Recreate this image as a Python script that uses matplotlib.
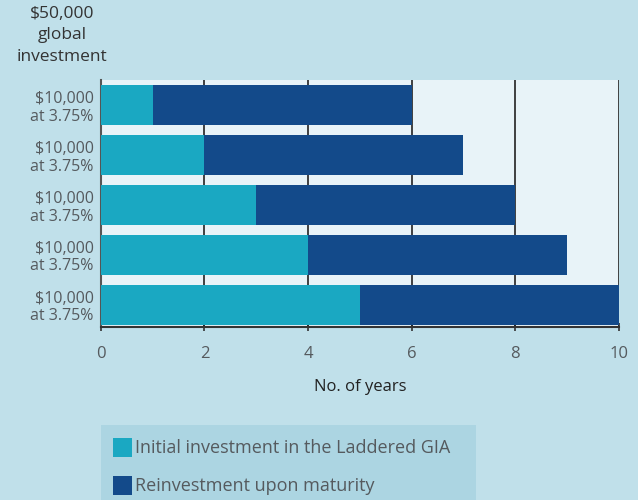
import matplotlib
matplotlib.use("Agg")
import matplotlib.pyplot as plt
from matplotlib.patches import Rectangle

categories = ["$10,000\nat 3.75%"] * 5
initial = [1, 2, 3, 4, 5]
reinvest = [5, 5, 5, 5, 5]
xticks = [0, 2, 4, 6, 8, 10]

TEAL = "#1aa8c2"
NAVY = "#134a8a"
BG = "#c0e0ea"
PLOT_BG = "#e8f3f8"
LEG_BG = "#acd5e2"
TXT = "#555a5e"

plt.rcParams['font.family'] = ['Open Sans', 'DejaVu Sans']

fig = plt.figure(figsize=(6.38, 5.0), dpi=100, facecolor=BG)
ax = fig.add_axes([0.158, 0.346, 0.812, 0.494])
ax.set_facecolor(PLOT_BG)

y = list(range(len(categories)))
ax.barh(y, initial, height=0.8, color=TEAL, zorder=3)
ax.barh(y, reinvest, left=initial, height=0.8, color=NAVY, zorder=3)

ax.set_ylim(4.45, -0.5)
ax.set_xlim(0, 10)
ax.set_xticks(xticks)
ax.set_xticklabels([str(t) for t in xticks], color=TXT, fontsize=12)
ax.set_yticks(y)
ax.set_yticklabels(categories, color=TXT, fontsize=11.5, linespacing=1.15)
ax.tick_params(axis='y', length=0, pad=5)
ax.tick_params(axis='x', length=6, width=1.2, color="#333333", direction='inout', pad=11)
for t in xticks[1:]:
    ax.axvline(t, color="#222222", lw=1.2, zorder=2)
for s in ["top", "right"]:
    ax.spines[s].set_visible(False)
ax.spines["left"].set_color("#555555")
ax.spines["left"].set_linewidth(1.5)
ax.spines["bottom"].set_color("#333333")
ax.spines["bottom"].set_linewidth(1.5)
ax.set_xlabel("No. of years", fontsize=12, color="#222222", labelpad=12)

fig.text(0.097, 0.988, "$50,000\nglobal\ninvestment", ha="center", va="top",
         fontsize=12.5, color="#333333", linespacing=1.45)

# legend panel
fig.patches.append(Rectangle((0.158, 0.0), 0.588, 0.15, transform=fig.transFigure,
                             facecolor=LEG_BG, edgecolor="none", zorder=0))
fig.patches.append(Rectangle((0.177, 0.086), 0.030, 0.038, transform=fig.transFigure,
                             facecolor=TEAL, edgecolor="none"))
fig.patches.append(Rectangle((0.177, 0.010), 0.030, 0.038, transform=fig.transFigure,
                             facecolor=NAVY, edgecolor="none"))
fig.text(0.212, 0.104, "Initial investment in the Laddered GIA", va="center",
         fontsize=13, color=TXT)
fig.text(0.212, 0.028, "Reinvestment upon maturity", va="center",
         fontsize=13, color=TXT)

fig.savefig("out.png", dpi=100, facecolor=BG)
